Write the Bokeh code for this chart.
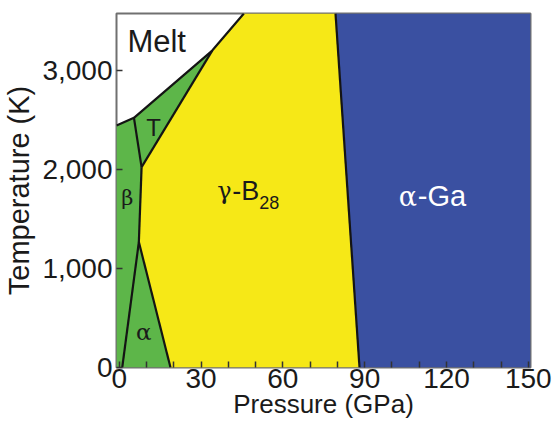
from bokeh.plotting import figure
from bokeh.models import Range1d, FixedTicker, NumeralTickFormatter
from bokeh.core.properties import value
from bokeh.embed import file_html
from bokeh.resources import INLINE

# ---- axis extents ----
P_MIN, P_MAX = -1.0, 150.8
T_MIN, T_MAX = 0, 3580

x_ticks = [0, 30, 60, 90, 120, 150]
x_minor = [10, 20, 40, 50, 70, 80, 100, 110, 130, 140]
y_ticks = [0, 1000, 2000, 3000]

# ---- phase boundaries (pressure GPa, temperature K) ----
melt_P = [P_MIN, 5.4, 34.1, 45.7]
melt_T = [2447, 2525, 3205, T_MAX]
tb_P = [5.4, 8.2]          # T / beta
tb_T = [2525, 2026]
tg_P = [8.2, 34.1]         # T / gamma
tg_T = [2026, 3205]
bg_P = [8.2, 7.2]          # beta / gamma
bg_T = [2026, 1269]
ab_P = [1.1, 7.2]          # alpha / beta
ab_T = [0, 1269]
ag_P = [7.2, 18.8]         # alpha / gamma
ag_T = [1269, 0]
gga_P = [88.1, 79.3]       # gamma / alpha-Ga
gga_T = [0, T_MAX]

# ---- phase labels ----
lab_melt = ("Melt", 3.0, 3300)
lab_T = ("T", 12.6, 2430)
lab_beta = ("β", 3.0, 1710)
lab_gamma = ("γ", 35.9, 1785)
lab_aga = ("α", 102.5, 1730)
lab_alpha = ("α", 9.0, 360)

GREEN = "#5db649"
YELLOW = "#f6e817"
BLUE = "#3a50a1"
SANS = "Liberation Sans"
GREEK = "DejaVu Serif"

p = figure(frame_width=414, frame_height=354,
           min_border_left=116, min_border_top=13, min_border_right=22, min_border_bottom=0,
           x_range=Range1d(P_MIN, P_MAX), y_range=Range1d(T_MIN, T_MAX),
           output_backend="svg", toolbar_location=None)
p.background_fill_color = "white"
p.border_fill_color = "white"
p.grid.visible = False
p.outline_line_color = "#707070"
p.outline_line_width = 2

# green region (alpha, beta, T)
green_P = [P_MIN, ag_P[1], ag_P[0], bg_P[0], tg_P[1], melt_P[1], melt_P[0]]
green_T = [T_MIN, ag_T[1], ag_T[0], bg_T[0], tg_T[1], melt_T[1], melt_T[0]]
yellow_P = [ag_P[1], gga_P[0], gga_P[1], melt_P[3], melt_P[2], bg_P[0], bg_P[1]]
yellow_T = [ag_T[1], gga_T[0], gga_T[1], melt_T[3], melt_T[2], bg_T[0], bg_T[1]]
blue_P = [gga_P[0], P_MAX, P_MAX, gga_P[1]]
blue_T = [gga_T[0], T_MIN, T_MAX, gga_T[1]]

p.patch(green_P, green_T, fill_color=GREEN, line_color=None)
p.patch(yellow_P, yellow_T, fill_color=YELLOW, line_color=None)
p.patch(blue_P, blue_T, fill_color=BLUE, line_color=None)

p.multi_line([melt_P, tb_P, tg_P, bg_P, ab_P, ag_P, gga_P],
             [melt_T, tb_T, tg_T, bg_T, ab_T, ag_T, gga_T],
             line_color="#141414", line_width=2.2, line_join="round")

def txt(x, y, s, font, size, color="#1a1a1a", xo=0, yo=0, align="left"):
    p.text(x=[x], y=[y], text=[s], text_font=value(font), text_font_size=value(size),
           text_color=color, x_offset=xo, y_offset=yo, text_align=align,
           text_baseline="alphabetic")

txt(lab_melt[1], lab_melt[2], lab_melt[0], SANS, "31px")
txt(lab_T[1], lab_T[2], lab_T[0], SANS, "24px", align="center")
txt(lab_beta[1], lab_beta[2], lab_beta[0], GREEK, "21px", align="center")
txt(lab_alpha[1], lab_alpha[2], lab_alpha[0], GREEK, "23px", align="center")
txt(lab_gamma[1], lab_gamma[2], lab_gamma[0], GREEK, "24px")
txt(lab_gamma[1], lab_gamma[2], "-B", SANS, "27px", xo=15)
txt(lab_gamma[1], lab_gamma[2], "28", SANS, "18px", xo=42, yo=12)
txt(lab_aga[1], lab_aga[2], lab_aga[0], GREEK, "27px", color="white")
txt(lab_aga[1], lab_aga[2], "-Ga", SANS, "29px", color="white", xo=19)

# axes
p.xaxis.ticker = FixedTicker(ticks=x_ticks, minor_ticks=x_minor)
p.yaxis.ticker = FixedTicker(ticks=y_ticks)
p.yaxis.formatter = NumeralTickFormatter(format="0,0")
for ax in (p.xaxis[0], p.yaxis[0]):
    ax.axis_line_color = None
    ax.major_tick_in = 6
    ax.major_tick_out = 0
    ax.minor_tick_in = 6
    ax.minor_tick_out = 0
    ax.major_tick_line_color = "#333333"
    ax.minor_tick_line_color = "#333333"
    ax.major_tick_line_width = 1.5
    ax.minor_tick_line_width = 1.5
    ax.major_label_text_font = SANS
    ax.major_label_text_font_size = "28px"
    ax.major_label_text_color = "#1a1a1a"
    ax.axis_label_text_font = SANS
    ax.axis_label_text_font_style = "normal"
    ax.axis_label_text_color = "#1a1a1a"
p.yaxis.minor_tick_line_color = None
p.xaxis.axis_label = "Pressure (GPa)"
p.yaxis.axis_label = "Temperature (K)"
p.xaxis.axis_label_text_font_size = "26px"
p.yaxis.axis_label_text_font_size = "29px"
p.xaxis.major_label_standoff = 1
p.yaxis.major_label_standoff = 4
p.xaxis.axis_label_standoff = -2
p.yaxis.axis_label_standoff = 4

open("out.html", "w").write(file_html(p, INLINE))
